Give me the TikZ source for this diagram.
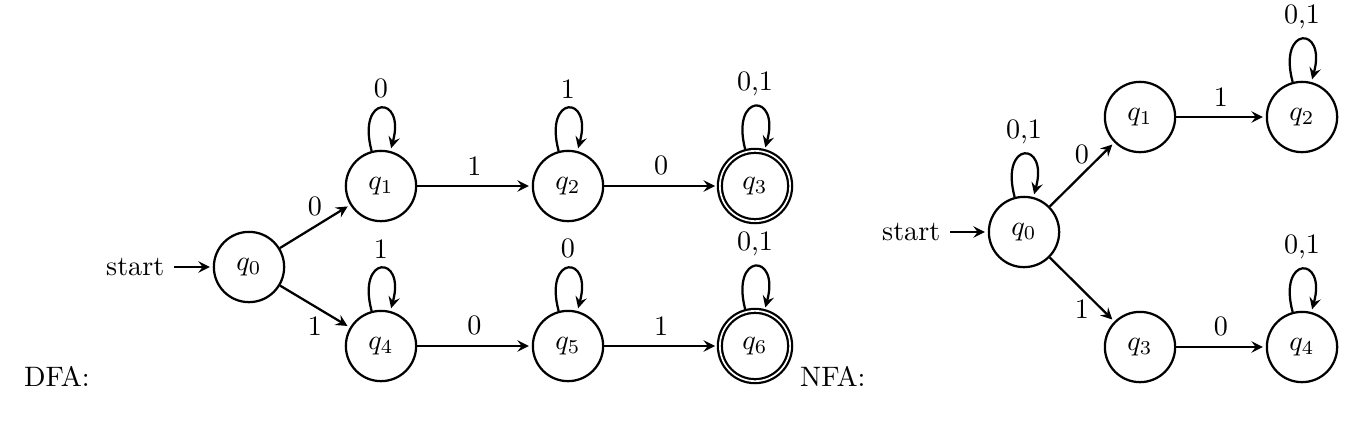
\documentclass[tikz,border=0pt]{standalone}
\usepackage{tikz}
\usetikzlibrary{automata, arrows, positioning}
\tikzset{
  every state/.style={thick, minimum size=2.5em},
  trans/.style={thick, ->, >=stealth, shorten >=1pt},
  lbl/.style={font=\normalsize}
}

\begin{document}
\begin{tikzpicture}
  \useasboundingbox (0,0) rectangle (16.8125,-5.45);
  % DFA states
  \node[state] (q0) at (3.1125,-3.3375) {$q_0$};
  \node[state] (q1) at (4.7625,-2.325) {$q_1$};
  \node[state] (q2) at (7.1,-2.325) {$q_2$};
  \node[state, accepting] (q3) at (9.4375,-2.325) {$q_3$};
  \node[state] (q4) at (4.7625,-4.325) {$q_4$};
  \node[state] (q5) at (7.1,-4.325) {$q_5$};
  \node[state, accepting] (q6) at (9.4375,-4.325) {$q_6$};
  \node (s0) at (1.69,-3.3375) {start};
  \node[lbl] (dfa) at (0.7125,-4.7) {DFA:};

  % DFA transitions
  \draw[trans] (s0) -- (q0);
  \path[trans] (q0) edge node[above] {0} (q1)
               (q0) edge node[below] {1} (q4)
               (q1) edge node[above] {1} (q2)
               (q2) edge node[above] {0} (q3)
               (q4) edge node[above] {0} (q5)
               (q5) edge node[above] {1} (q6)
               (q1) edge[loop above] node {0} (q1)
               (q2) edge[loop above] node {1} (q2)
               (q3) edge[loop above] node {0,1} (q3)
               (q4) edge[loop above] node {1} (q4)
               (q5) edge[loop above] node {0} (q5)
               (q6) edge[loop above] node {0,1} (q6);

  % NFA states
  \node[state] (p0) at (12.8,-2.9) {$q_0$};
  \node[state] (p1) at (14.25,-1.4625) {$q_1$};
  \node[state] (p2) at (16.275,-1.4625) {$q_2$};
  \node[state] (p3) at (14.25,-4.3375) {$q_3$};
  \node[state] (p4) at (16.275,-4.3375) {$q_4$};
  \node (s1) at (11.39,-2.9) {start};
  \node[lbl] (nfa) at (10.41,-4.7) {NFA:};

  % NFA transitions
  \draw[trans] (s1) -- (p0);
  \path[trans] (p0) edge node[above] {0} (p1)
               (p0) edge node[below] {1} (p3)
               (p1) edge node[above] {1} (p2)
               (p3) edge node[above] {0} (p4)
               (p0) edge[loop above] node {0,1} (p0)
               (p2) edge[loop above] node {0,1} (p2)
               (p4) edge[loop above] node {0,1} (p4);
\end{tikzpicture}
\end{document}
